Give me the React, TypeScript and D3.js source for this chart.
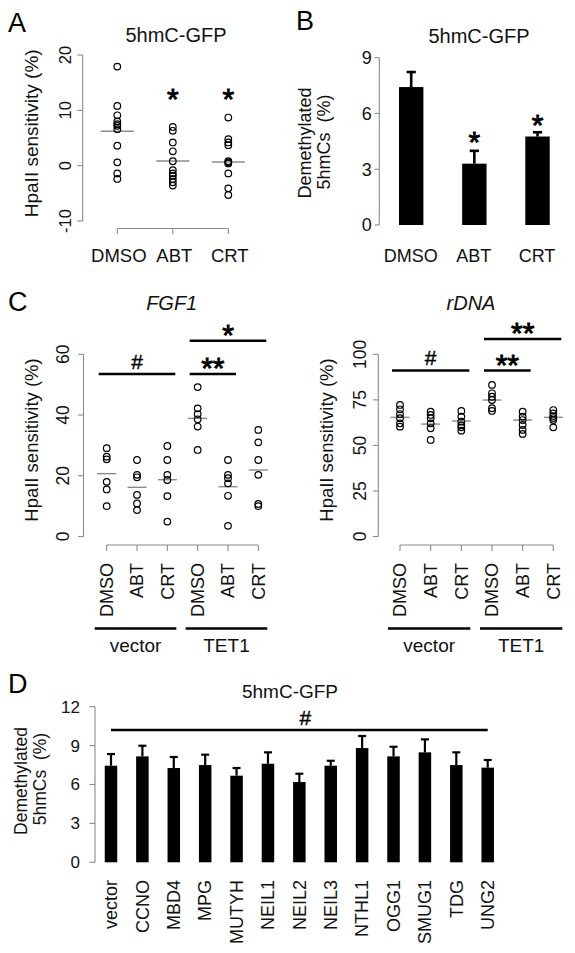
import React from "react";
import * as d3 from "d3";

// ---------------- DATA ----------------
const panelACategories = ["DMSO", "ABT", "CRT"];
const panelADMSO = [17.9, 10.8, 9.1, 8.0, 7.5, 7.2, 6.6, 3.6, 0.6, -1.4, -2.4];
const panelAABT = [7.0, 6.3, 4.2, 2.6, 0.8, -0.8, -1.4, -1.8, -2.4, -3.0, -3.6];
const panelACRT = [8.7, 4.8, 4.2, 3.7, 0.8, 0.6, 0.4, -1.4, -4.1, -5.3];
const panelAMeans = [6.2, 0.85, 0.67];
const panelATicks = [20, 10, 0, -10];
const panelAStars = ["", "*", "*"];

const panelBCategories = ["DMSO", "ABT", "CRT"];
const panelBMeans = [7.42, 3.3, 4.76];
const panelBErr = [0.81, 0.69, 0.23];
const panelBTicks = [0, 3, 6, 9];
const panelBStars = ["", "*", "*"];

const cCategories = ["DMSO", "ABT", "CRT", "DMSO", "ABT", "CRT"];
const cGroups = ["vector", "TET1"];
const fgf1Points = [
  [29.1, 26.3, 25.4, 18.0, 15.5, 10.0],
  [25.2, 20.3, 19.5, 13.7, 10.9, 8.7],
  [29.8, 25.2, 20.3, 18.6, 13.3, 4.9],
  [49.2, 42.2, 40.3, 38.6, 36.2, 28.5],
  [25.2, 20.3, 19.2, 17.5, 13.4, 3.5],
  [35.1, 31.0, 25.2, 20.3, 10.7, 10.0],
];
const fgf1Means = [20.7, 16.2, 18.7, 38.9, 16.4, 21.9];
const fgf1Ticks = [0, 20, 40, 60];
const rdnaPoints = [
  [72.2, 69.8, 67.2, 64.9, 62.1, 60.3],
  [68.5, 66.7, 64.9, 62.1, 59.4, 53.0],
  [68.9, 65.8, 63.0, 61.0, 59.9, 58.1],
  [83.2, 78.6, 76.7, 74.9, 70.4, 68.9],
  [68.5, 65.8, 63.9, 61.2, 58.5, 56.3],
  [69.4, 67.6, 66.1, 65.0, 63.9, 59.9],
];
const rdnaMeans = [65.4, 61.7, 63.4, 74.9, 63.9, 65.4];
const rdnaTicks = [0, 25, 50, 75, 100];
// significance brackets: [fromIndex, toIndex, level, label]
const fgf1Sig: [number, number, number, string][] = [
  [0, 2, 0, "#"],
  [3, 4, 0, "**"],
  [3, 5, 1, "*"],
];
const rdnaSig: [number, number, number, string][] = [
  [0, 2, 0, "#"],
  [3, 4, 0, "**"],
  [3, 5, 1, "**"],
];

const dCategories = ["vector", "CCNO", "MBD4", "MPG", "MUTYH", "NEIL1", "NEIL2", "NEIL3", "NTHL1", "OGG1", "SMUG1", "TDG", "UNG2"];
const dMeans = [7.45, 8.17, 7.27, 7.5, 6.68, 7.6, 6.19, 7.45, 8.81, 8.17, 8.48, 7.5, 7.3];
const dErr = [0.9, 0.82, 0.85, 0.8, 0.59, 0.88, 0.64, 0.38, 0.93, 0.74, 1.0, 0.98, 0.59];
const dTicks = [0, 3, 6, 9, 12];

// ---------------- STYLE ----------------
const FONT = "'Liberation Sans', Arial, Helvetica, sans-serif";
const AXIS = "#8a8a8a";
const TXT = "#111";
const MEAN = "#8a8a8a";

function Star({ x, cy, label, size = 30 }: { x: number; cy: number; label: string; size?: number }) {
  if (!label) return null;
  return (
    <text x={x} y={cy + size * 0.56} textAnchor="middle" fontSize={size} fill="#000" stroke="#000" strokeWidth={0.9}>
      {label}
    </text>
  );
}

function Hash({ x, cy, size = 21 }: { x: number; cy: number; size?: number }) {
  return (
    <text x={x} y={cy + size * 0.35} textAnchor="middle" fontSize={size} fill="#000" stroke="#000" strokeWidth={0.4}>
      #
    </text>
  );
}

function PanelA() {
  const y = d3.scaleLinear().domain([-10, 20]).range([221, 55]);
  const x = d3.scalePoint<string>().domain(panelACategories).range([117.3, 228.3]);
  const groups = [panelADMSO, panelAABT, panelACRT];
  const axX = 82.7;
  const axY = 228.5;
  return (
    <g>
      <text x={8} y={32} fontSize={27} fill="#000">A</text>
      <text x={176} y={42.3} textAnchor="middle" fontSize={20} fill={TXT}>5hmC-GFP</text>
      <text transform={`translate(31.7,133.3) rotate(-90)`} textAnchor="middle" dy="0.35em" fontSize={19} fill={TXT}>
        HpaII sensitivity (%)
      </text>
      <line x1={axX} x2={axX} y1={y(-10)} y2={y(20)} stroke={AXIS} strokeWidth={1.1} />
      {panelATicks.map((t) => (
        <g key={t}>
          <line x1={axX - 5.5} x2={axX} y1={y(t)} y2={y(t)} stroke={AXIS} strokeWidth={1.1} />
          <text transform={`translate(65,${y(t)}) rotate(-90)`} textAnchor="middle" dy="0.35em" fontSize={16.5} fill={TXT}>
            {t}
          </text>
        </g>
      ))}
      <line x1={x("DMSO")!} x2={x("CRT")!} y1={axY} y2={axY} stroke={AXIS} strokeWidth={1.1} />
      {panelACategories.map((c) => (
        <g key={c}>
          <line x1={x(c)!} x2={x(c)!} y1={axY} y2={axY + 5.5} stroke={AXIS} strokeWidth={1.1} />
          <text x={x(c)! + 1.5} y={261.5} textAnchor="middle" fontSize={18.5} fill={TXT}>{c}</text>
        </g>
      ))}
      {groups.map((g, i) => {
        const cx = x(panelACategories[i])!;
        return (
          <g key={i}>
            <line x1={cx - 16.5} x2={cx + 16.5} y1={y(panelAMeans[i])} y2={y(panelAMeans[i])} stroke={MEAN} strokeWidth={1.5} />
            {g.map((v, j) => (
              <circle key={j} cx={cx} cy={y(v)} r={3.3} fill="none" stroke="#000" strokeWidth={1.2} />
            ))}
            <Star x={cx} cy={91.7} label={panelAStars[i]} />
          </g>
        );
      })}
    </g>
  );
}

function PanelB() {
  const y = d3.scaleLinear().domain([0, 9]).range([225, 57.7]);
  const x = d3.scalePoint<string>().domain(panelBCategories).range([411.2, 537.5]);
  const axX = 379.3;
  const bw = 24.4;
  const starY = [0, 135, 118.3];
  return (
    <g>
      <text x={296} y={30} fontSize={27} fill="#000">B</text>
      <text x={479} y={42.5} textAnchor="middle" fontSize={20} fill={TXT}>5hmC-GFP</text>
      <text transform={`translate(305,143) rotate(-90)`} textAnchor="middle" dy="0.35em" fontSize={18} fill={TXT}>
        Demethylated
      </text>
      <text transform={`translate(323.3,142) rotate(-90)`} textAnchor="middle" dy="0.35em" fontSize={18} fill={TXT} style={{ whiteSpace: "pre" }}>
        {"5hmCs  (%)"}
      </text>
      <line x1={axX} x2={axX} y1={y(0)} y2={y(9)} stroke={AXIS} strokeWidth={1.1} />
      {panelBTicks.map((t) => (
        <g key={t}>
          <line x1={axX - 4.8} x2={axX} y1={y(t)} y2={y(t)} stroke={AXIS} strokeWidth={1.1} />
          <text x={371.7} y={y(t)} textAnchor="end" dy="0.35em" fontSize={18} fill={TXT}>{t}</text>
        </g>
      ))}
      {panelBCategories.map((c, i) => {
        const cx = x(c)!;
        const m = panelBMeans[i];
        const e = panelBErr[i];
        return (
          <g key={c}>
            <line x1={cx} x2={cx} y1={y(m)} y2={y(m + e)} stroke="#000" strokeWidth={2.6} />
            <line x1={cx - 4.6} x2={cx + 4.6} y1={y(m + e)} y2={y(m + e)} stroke="#000" strokeWidth={2.6} />
            <rect x={cx - bw / 2} width={bw} y={y(m)} height={y(0) - y(m)} fill="#000" />
            <text x={cx - 0.5} y={261.5} textAnchor="middle" fontSize={18} fill={TXT}>{c}</text>
            <Star x={cx} cy={starY[i]} label={panelBStars[i]} />
          </g>
        );
      })}
    </g>
  );
}

function PanelC({
  title,
  points,
  means,
  ticks,
  domainMax,
  axX,
  x0,
  x1,
  tickLabelX,
  titleX,
  sig,
  sigY,
  letter,
}: {
  title: string;
  points: number[][];
  means: number[];
  ticks: number[];
  domainMax: number;
  axX: number;
  x0: number;
  x1: number;
  tickLabelX: number;
  titleX: number;
  sig: [number, number, number, string][];
  sigY: number[];
  letter?: string;
}) {
  const y = d3.scaleLinear().domain([0, domainMax]).range([536.5, 354.3]);
  const x = d3.scalePoint<number>().domain(d3.range(cCategories.length)).range([x0, x1]);
  const axY = 545;
  const groupY = 628.5;
  return (
    <g>
      {letter && <text x={8} y={311} fontSize={27} fill="#000">{letter}</text>}
      <text x={titleX} y={310} textAnchor="middle" fontSize={20} fontStyle="italic" fill={TXT}>{title}</text>
      <text transform={`translate(${axX - 52},440) rotate(-90)`} textAnchor="middle" dy="0.35em" fontSize={18.5} fill={TXT}>
        HpaII sensitivity (%)
      </text>
      <line x1={axX} x2={axX} y1={y(0)} y2={y(domainMax)} stroke={AXIS} strokeWidth={1.1} />
      {ticks.map((t) => (
        <g key={t}>
          <line x1={axX - 5.5} x2={axX} y1={y(t)} y2={y(t)} stroke={AXIS} strokeWidth={1.1} />
          <text transform={`translate(${tickLabelX},${y(t)}) rotate(-90)`} textAnchor="middle" dy="0.35em" fontSize={17.5} fill={TXT}>
            {t}
          </text>
        </g>
      ))}
      <line x1={x(0)!} x2={x(5)!} y1={axY} y2={axY} stroke={AXIS} strokeWidth={1.1} />
      {cCategories.map((c, i) => (
        <g key={i}>
          <line x1={x(i)!} x2={x(i)!} y1={axY} y2={axY + 6} stroke={AXIS} strokeWidth={1.1} />
          <text transform={`translate(${x(i)!},563) rotate(-90)`} textAnchor="end" dy="0.35em" fontSize={18} fill={TXT}>
            {c}
          </text>
        </g>
      ))}
      {cGroups.map((g, gi) => {
        const a = x(gi * 3)! - 12;
        const b = x(gi * 3 + 2)! + 9;
        return (
          <g key={g}>
            <line x1={a} x2={b} y1={groupY} y2={groupY} stroke="#000" strokeWidth={2.6} />
            <text x={(a + b) / 2} y={651.5} textAnchor="middle" fontSize={19} fill={TXT}>{g}</text>
          </g>
        );
      })}
      {points.map((g, i) => {
        const cx = x(i)!;
        return (
          <g key={i}>
            <line x1={cx - 9.5} x2={cx + 9.5} y1={y(means[i])} y2={y(means[i])} stroke={MEAN} strokeWidth={1.4} />
            {g.map((v, j) => (
              <circle key={j} cx={cx} cy={y(v)} r={3.3} fill="none" stroke="#000" strokeWidth={1.2} />
            ))}
          </g>
        );
      })}
      {sig.map(([f, t, lvl, lab], k) => {
        const a = x(f)! - 8;
        const b = x(t)! + 8;
        const ly = sigY[lvl];
        const mid = (a + b) / 2;
        return (
          <g key={k}>
            <line x1={a} x2={b} y1={ly} y2={ly} stroke="#000" strokeWidth={2.6} />
            {lab === "#" ? <Hash x={mid} cy={ly - 12.5} /> : <Star x={mid} cy={ly - 12.5} label={lab} />}
          </g>
        );
      })}
    </g>
  );
}

function PanelD() {
  const y = d3.scaleLinear().domain([0, 12]).range([862.3, 706.7]);
  const x = d3.scalePoint<string>().domain(dCategories).range([111, 487.7]);
  const axX = 95;
  const bw = 12.5;
  const sigY = 730;
  const a = x(dCategories[0])!;
  const b = x(dCategories[dCategories.length - 1])!;
  return (
    <g>
      <text x={8} y={693} fontSize={27} fill="#000">D</text>
      <text x={290} y={698} textAnchor="middle" fontSize={19} fill={TXT}>5hmC-GFP</text>
      <text transform={`translate(21,781) rotate(-90)`} textAnchor="middle" dy="0.35em" fontSize={17.5} fill={TXT}>
        Demethylated
      </text>
      <text transform={`translate(39.5,779) rotate(-90)`} textAnchor="middle" dy="0.35em" fontSize={17.5} fill={TXT} style={{ whiteSpace: "pre" }}>
        {"5hmCs  (%)"}
      </text>
      <line x1={axX} x2={axX} y1={y(0)} y2={y(12)} stroke={AXIS} strokeWidth={1.1} />
      {dTicks.map((t) => (
        <g key={t}>
          <line x1={axX - 5.5} x2={axX} y1={y(t)} y2={y(t)} stroke={AXIS} strokeWidth={1.1} />
          <text x={80} y={y(t)} textAnchor="end" dy="0.35em" fontSize={17} fill={TXT}>{t}</text>
        </g>
      ))}
      <line x1={a} x2={b} y1={sigY} y2={sigY} stroke="#000" strokeWidth={2.4} />
      <Hash x={(a + b) / 2 + 6} cy={sigY - 12} />
      {dCategories.map((c, i) => {
        const cx = x(c)!;
        const m = dMeans[i];
        const e = dErr[i];
        return (
          <g key={c}>
            <line x1={cx} x2={cx} y1={y(m)} y2={y(m + e)} stroke="#000" strokeWidth={2.2} />
            <line x1={cx - 4} x2={cx + 4} y1={y(m + e)} y2={y(m + e)} stroke="#000" strokeWidth={2.2} />
            <rect x={cx - bw / 2} width={bw} y={y(m)} height={y(0) - y(m)} fill="#000" />
            <text transform={`translate(${cx},880) rotate(-90)`} textAnchor="end" dy="0.35em" fontSize={18} fill={TXT}>
              {c}
            </text>
          </g>
        );
      })}
    </g>
  );
}

export default function App() {
  return (
    <svg
      width={575}
      height={953}
      viewBox="0 0 575 953"
      style={{ position: "absolute", left: 0, top: 0, background: "#fff" }}
      fontFamily={FONT}
    >
      <rect x={0} y={0} width={575} height={953} fill="#fff" />
      <PanelA />
      <PanelB />
      <PanelC
        title="FGF1"
        points={fgf1Points}
        means={fgf1Means}
        ticks={fgf1Ticks}
        domainMax={60}
        axX={83.5}
        x0={106.7}
        x1={258.3}
        tickLabelX={63.3}
        titleX={171.7}
        sig={fgf1Sig}
        sigY={[374, 340.7]}
        letter="C"
      />
      <PanelC
        title="rDNA"
        points={rdnaPoints}
        means={rdnaMeans}
        ticks={rdnaTicks}
        domainMax={100}
        axX={378.3}
        x0={400}
        x1={553.3}
        tickLabelX={360}
        titleX={471}
        sig={rdnaSig}
        sigY={[370.5, 339]}
      />
      <PanelD />
    </svg>
  );
}
